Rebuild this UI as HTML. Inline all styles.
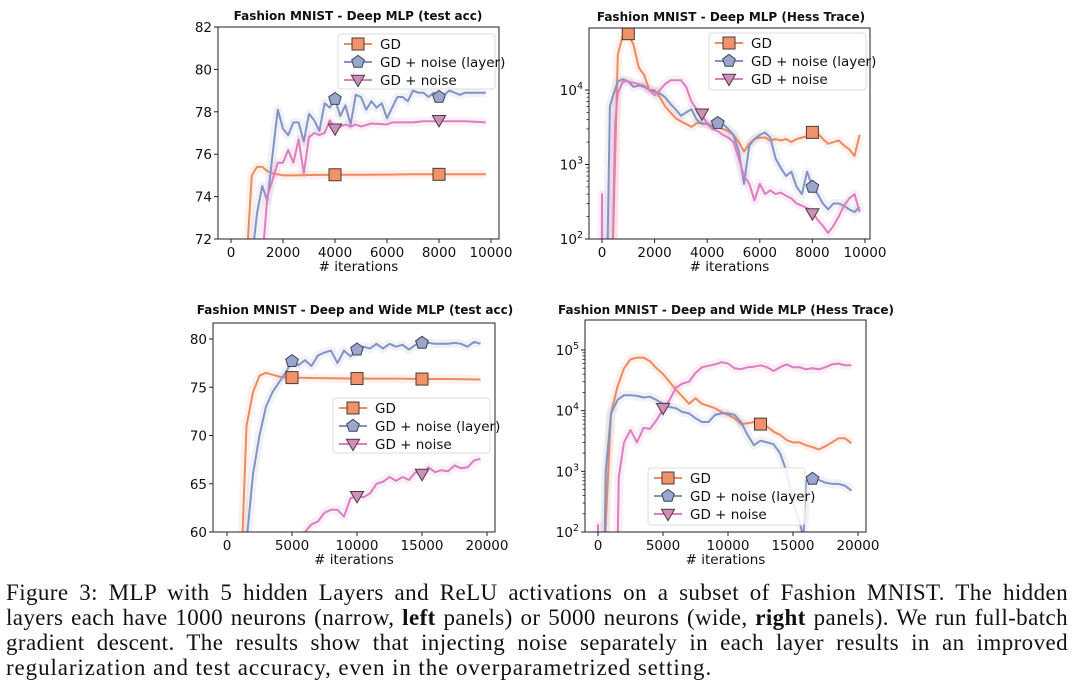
<!DOCTYPE html>
<html><head><meta charset="utf-8"><style>
body{margin:0;background:#fff;width:1080px;height:694px;overflow:hidden;position:relative}
svg{position:absolute;left:0;top:0}
.cap{position:absolute;left:6px;width:1062px;font-family:"Liberation Serif",serif;font-size:23px;letter-spacing:0.9px;line-height:25px;white-space:nowrap;color:#111}
.j{text-align:justify;text-align-last:justify;letter-spacing:0.4px}
</style></head><body>
<svg id="fig" width="1080" height="580"></svg>
<div class="cap j" style="top:580px">Figure 3: MLP with 5 hidden Layers and ReLU activations on a subset of Fashion MNIST. The hidden</div>
<div class="cap j" style="top:605px">layers each have 1000 neurons (narrow, <b>left</b> panels) or 5000 neurons (wide, <b>right</b> panels). We run full-batch</div>
<div class="cap j" style="top:630px">gradient descent. The results show that injecting noise separately in each layer results in an improved</div>
<div class="cap" style="top:655px">regularization and test accuracy, even in the overparametrized setting.</div>
<script>
// ---- Panel 1: Deep MLP test acc ----
const p1GDx=[600,800,1000,1200,1400,1600,1800,2000,2400,3000,4000,5000,6000,7000,8000,9000,9800];
const p1GDy=[71,75.0,75.4,75.4,75.2,75.1,75.05,75.0,75.0,75.02,75.03,75.03,75.04,75.05,75.05,75.05,75.05];
const p1Lx=[800,1000,1200,1400,1600,1800,2000,2200,2400,2600,2800,3000,3200,3400,3600,3800,4000,4200,4400,4600,4800,5000,5200,5400,5600,5800,6000,6200,6400,6600,6800,7000,7200,7400,7600,7800,8000,8200,8400,8600,8800,9000,9400,9800];
const p1Ly=[71,73.2,74.5,73.8,76,78.1,77.2,76.9,77.5,77.5,76.6,77.9,77.6,77.1,78.4,78.2,78.6,77.8,78.3,77.4,78.8,78.7,78.1,78.5,78.2,78.4,77.7,78.2,78.7,78.7,78.5,79.0,78.9,78.9,78.7,78.9,78.7,78.8,79.0,78.9,78.8,78.9,78.9,78.9];
const p1Nx=[1200,1400,1600,1800,2000,2200,2400,2600,2800,3000,3200,3400,3600,3800,4000,4200,4400,4600,4800,5000,5400,6000,6200,7000,7400,8000,9000,9800];
const p1Ny=[71,74,74.8,75.6,75.6,76.2,75.6,76.7,75.1,76.8,77.0,76.9,77.0,77.6,77.2,77.3,77.4,77.3,77.4,77.3,77.45,77.4,77.5,77.5,77.55,77.55,77.55,77.5];
// ---- Panel 2: Deep MLP Hess trace ----
const p2GDx=[400,600,800,1000,1200,1400,1600,1800,2000,2200,2400,2600,2800,3000,3200,3400,3600,3800,4000,4200,4400,4600,4800,5000,5200,5400,5600,5800,6000,6200,6400,6600,6800,7000,7200,7400,7600,7800,8000,8200,8400,8600,8800,9000,9200,9400,9600,9800];
const p2GDy=[50,30000,55000,57000,40000,20000,16000,10000,10000,8000,6000,5000,4200,3800,3500,3200,3600,3600,3500,3300,3200,3000,2800,2500,2000,1500,1900,2200,2300,2300,2100,2200,2100,2200,2000,2200,2300,2400,2700,2600,2200,1900,2000,2100,1800,1600,1300,2500];
const p2Lx=[200,300,400,600,800,1000,1200,1400,1600,1800,2000,2200,2400,2600,2800,3000,3200,3400,3600,3800,4000,4200,4400,4600,4800,5000,5200,5400,5600,5800,6000,6200,6400,6600,6800,7000,7200,7400,7600,7800,8000,8200,8400,8600,8800,9000,9200,9400,9600,9800];
const p2Ly=[50,6000,8000,13000,14000,13000,11000,11500,11000,10000,9500,9000,8000,6500,5500,4500,5000,5500,4000,3500,3600,3200,3600,3500,3000,2500,1500,550,1800,2200,2500,2700,2300,1200,900,700,800,500,400,800,500,400,300,250,300,300,280,250,230,270];
const p2Nx=[-10,0,10,400,500,600,800,1000,1200,1400,1600,1800,2000,2200,2400,2600,2800,3000,3200,3400,3600,3800,4000,4200,4400,4600,4800,5000,5200,5400,5600,5800,6000,6200,6400,6600,6800,7000,7200,7400,7600,7800,8000,8200,8400,8600,8800,9000,9200,9400,9600,9800];
const p2Ny=[50,400,50,50,3500,9000,13000,13000,12500,12000,11500,10000,8500,10000,12000,13500,13500,13500,11000,7000,5500,4800,3500,3000,2800,2500,2300,2000,1200,700,550,330,550,400,450,400,420,380,350,300,280,260,230,180,150,120,150,200,280,350,400,230];
// ---- Panel 3: Deep & Wide test acc ----
const p3GDx=[1000,1200,1500,2000,2500,3000,3500,4000,4500,5000,7000,10000,13000,15000,17000,19500];
const p3GDy=[55,60,71,74.5,76.2,76.5,76.3,76.1,76.0,76.0,75.95,75.9,75.9,75.85,75.85,75.8];
const p3Lx=[1500,2000,2500,3000,3500,4000,4500,5000,5500,6000,6500,7000,7500,8000,8500,9000,9500,10000,10500,11000,11500,12000,12500,13000,13500,14000,14500,15000,15500,16000,16500,17000,17500,18000,18500,19000,19500];
const p3Ly=[59,66,70,73,74.5,75.5,76.5,77.7,77.3,77.8,77.2,78.3,78.6,78.8,77.5,78.8,78.2,78.9,79.2,79.0,79.5,79.0,79.5,79.2,79.4,78.9,79.4,79.6,79.6,79.5,79.5,79.5,79.6,79.5,79.2,79.7,79.5];
const p3Nx=[6000,6500,7000,7500,8000,8500,9000,9500,10000,10500,11000,11500,12000,12500,13000,13500,14000,14500,15000,15500,16000,16500,17000,17500,18000,18500,19000,19500];
const p3Ny=[60,60.8,61.1,62,62.3,62.3,61.6,63.5,63.7,63.6,64,65,65.2,65.7,65.3,65.7,65.4,66.2,66,66.7,66.2,66.4,66.3,66.9,66.6,66.7,67.4,67.6];
// ---- Panel 4: Deep & Wide Hess trace ----
const p4GDx=[500,1000,1500,2000,2500,3000,3500,4000,4500,5000,5500,6000,6500,7000,7500,8000,8500,9000,9500,10000,10500,11000,11500,12000,12500,13000,13500,14000,14500,15000,15500,16000,16500,17000,17500,18000,18500,19000,19500];
const p4GDy=[50,9000,25000,50000,70000,75000,75000,65000,50000,40000,30000,22000,17000,13000,16000,13000,12000,11000,9500,8500,7500,6000,6200,6500,6000,5500,4500,4000,3300,3000,3000,2700,2500,2300,2600,3000,3500,3500,2900];
const p4Lx=[500,600,1000,1500,2000,2500,3000,3500,4000,4500,5000,5500,6000,6500,7000,7500,8000,8500,9000,9500,10000,10500,11000,11500,12000,12500,13000,13500,14000,14500,15000,15500,15800,16000,16500,17000,17500,18000,18500,19000,19500];
const p4Ly=[50,1000,9000,15000,18000,18000,17500,16500,17000,15000,13000,11500,11000,9500,9000,7500,6500,6500,8500,9000,9000,8500,6500,4000,2700,3200,3000,2800,2000,1000,300,150,80,700,750,720,650,620,620,580,480];
const p4Nx=[-10,0,10,1500,1600,2000,2500,3000,3500,4000,4500,5000,5500,6000,6500,7000,7500,8000,8500,9000,9500,10000,10500,11000,11500,12000,12500,13000,13500,14000,14500,15000,15500,16000,16500,17000,17500,18000,18500,19000,19500];
const p4Ny=[50,130,50,50,800,3000,4800,3000,5200,5000,7000,10500,15000,24000,28000,30000,42000,52000,55000,58000,63000,60000,50000,48000,52000,53000,56000,52000,45000,52000,58000,52000,52000,48000,50000,48000,52000,58000,60000,56000,56000];
// markers [x,y]
const p1Mk={gd:[[4000,75.03],[8000,75.05]],layer:[[4000,78.6],[8000,78.7]],noise:[[4000,77.2],[8000,77.6]]};
const p2Mk={gd:[[1000,57000],[8000,2700]],layer:[[4400,3600],[8000,500]],noise:[[3800,4800],[8000,220]]};
const p3Mk={gd:[[5000,76.0],[10000,75.9],[15000,75.85]],layer:[[5000,77.7],[10000,78.9],[15000,79.6]],noise:[[10000,63.7],[15000,66]]};
const p4Mk={gd:[[12500,6000]],layer:[[16500,750]],noise:[[5000,11000]]};
const p1Ticks=[72,74,76,78,80,82], p3Ticks=[60,65,70,75,80];
const xTicks10=[0,2000,4000,6000,8000,10000], xTicks20=[0,5000,10000,15000,20000];

const C={gd:'#ee8a62',layer:'#8393c2',noise:'#db7fc0'};
const F={gd:'#f2926a',layer:'#9aa6cc',noise:'#cf8fba'};
const NS='http://www.w3.org/2000/svg';
const svg=document.getElementById('fig');
function mk(tag,at,parent){const e=document.createElementNS(NS,tag);for(const k in at)e.setAttribute(k,at[k]);(parent||svg).appendChild(e);return e;}

function marker(g,kind,cx,cy,s){
  let e;
  if(kind==='gd') e=mk('rect',{x:cx-s,y:cy-s,width:2*s,height:2*s,fill:F.gd,stroke:'#4a3a35','stroke-width':1},g);
  else if(kind==='layer'){let p=[];for(let i=0;i<5;i++){const a=-Math.PI/2+i*2*Math.PI/5;p.push((cx+s*1.1*Math.cos(a)).toFixed(1)+','+(cy+s*1.1*Math.sin(a)).toFixed(1));}
    e=mk('polygon',{points:p.join(' '),fill:F.layer,stroke:'#3d4155','stroke-width':1},g);}
  else e=mk('polygon',{points:`${cx-s*1.1},${cy-s*0.8} ${cx+s*1.1},${cy-s*0.8} ${cx},${cy+s*1.1}`,fill:F.noise,stroke:'#4a3a45','stroke-width':1},g);
  return e;
}

function panel(cfg){
  const {id,L,R,T,B,x0,x0px,x1,x1px,log,y0,y0px,y1,y1px,title,tx,ty,series,mks,yt,xt,leg}=cfg;
  const sx=v=>x0px+(v-x0)*(x1px-x0px)/(x1-x0);
  const tr=v=>log?Math.log10(v):v;
  const sy=v=>y0px+(tr(v)-y0)*(y1px-y0px)/(y1-y0);
  const g=mk('g',{});
  
  
  const cp=mk('clipPath',{id:id+'-clip'},g);mk('rect',{x:L,y:T,width:R-L,height:B-T},cp);
  const t=mk('text',{x:tx,y:ty,'text-anchor':'middle','font-family':'DejaVu Sans,sans-serif','font-size':12,'font-weight':'bold',fill:'#111'},g);
  t.textContent=title;
  
  
  const pg=mk('g',{'clip-path':`url(#${id}-clip)`},g);
  for(const [k,xs,ys] of series){
    const d=xs.map((x,i)=>(i?'L':'M')+sx(x).toFixed(1)+','+Math.max(-50,Math.min(700,sy(ys[i]))).toFixed(1)).join('');
    const band=mk('path',{d,fill:'none',stroke:C[k],'stroke-opacity':0.12,'stroke-width':9,'stroke-linejoin':'round'},pg);
    
    
    const p=mk('path',{d,fill:'none',stroke:C[k],'stroke-width':2,'stroke-linejoin':'round'},pg);
    
    
  }
  for(const k of ['gd','layer','noise']) for(const [x,y] of mks[k]){
    const m=marker(pg,k,sx(x),sy(y),6);
    
    
  }
  const fr=mk('rect',{x:L,y:T,width:R-L,height:B-T,fill:'none',stroke:'#222','stroke-width':1},g);
  
  
  const font={'font-family':'DejaVu Sans,sans-serif','font-size':13.5,fill:'#111'};
  for(const v of xt){const x=sx(v);mk('line',{x1:x,x2:x,y1:B,y2:B+4,stroke:'#222'},g);
    const tt=mk('text',Object.assign({x,y:B+18,'text-anchor':'middle'},font),g);tt.textContent=v;
    
    }
  const xl=mk('text',Object.assign({x:(L+R)/2,y:B+32,'text-anchor':'middle'},font),g);xl.textContent='# iterations';
  
  
  for(const v of yt){const y=sy(v);mk('line',{x1:L-4,x2:L,y1:y,y2:y,stroke:'#222'},g);
    const tt=mk('text',Object.assign({x:L-6,y:y+5,'text-anchor':'end'},font),g);
    if(log){tt.textContent='10';const s=mk('tspan',{dy:-6,'font-size':9.5},tt);s.textContent=Math.round(Math.log10(v));}
    else tt.textContent=v;
    
    }
  if(log){for(let d=Math.floor(y0);d<Math.ceil(y1);d++)for(let m=2;m<10;m++){const y=sy(m*Math.pow(10,d));if(y>=T&&y<=B)mk('line',{x1:L-2.5,x2:L,y1:y,y2:y,stroke:'#222','stroke-width':0.8},g);}}
  const [lx,ly,lw,lh]=leg;
  const lg=mk('g',{},g);
  
  
  mk('rect',{x:lx,y:ly,width:lw,height:lh,rx:3,fill:'#fff','fill-opacity':0.85,stroke:'#ddd'},lg);
  const names={gd:'GD',layer:'GD + noise (layer)',noise:'GD + noise'};
  ['gd','layer','noise'].forEach((k,i)=>{const y=ly+10+i*18;
    mk('line',{x1:lx+6,x2:lx+34,y1:y,y2:y,stroke:C[k],'stroke-width':2},lg);
    marker(lg,k,lx+20,y,6);
    const tt=mk('text',Object.assign({x:lx+42,y:y+5},font),lg);tt.textContent=names[k];
    
    });
}
panel({id:'panel-deep-acc',L:218,R:499,T:27,B:239,x0:0,x0px:231,x1:10000,x1px:491,log:false,y0:72,y0px:239,y1:82,y1px:27,
  title:'Fashion MNIST - Deep MLP (test acc)',tx:358,ty:20,
  series:[['gd',p1GDx,p1GDy],['layer',p1Lx,p1Ly],['noise',p1Nx,p1Ny]],mks:p1Mk,yt:p1Ticks,xt:xTicks10,leg:[338,34,157,55]});
panel({id:'panel-deep-hess',L:589,R:870,T:28,B:239,x0:0,x0px:602,x1:10000,x1px:865,log:true,y0:2,y0px:239,y1:4,y1px:90,
  title:'Fashion MNIST - Deep MLP (Hess Trace)',tx:731,ty:21,
  series:[['gd',p2GDx,p2GDy],['layer',p2Lx,p2Ly],['noise',p2Nx,p2Ny]],mks:p2Mk,yt:[100,1000,10000],xt:xTicks10,leg:[709,33,157,57]});
panel({id:'panel-wide-acc',L:213,R:495,T:323,B:532,x0:0,x0px:227,x1:20000,x1px:487,log:false,y0:60,y0px:532,y1:80,y1px:339,
  title:'Fashion MNIST - Deep and Wide MLP (test acc)',tx:355,ty:314,
  series:[['gd',p3GDx,p3GDy],['layer',p3Lx,p3Ly],['noise',p3Nx,p3Ny]],mks:p3Mk,yt:p3Ticks,xt:xTicks20,leg:[333,398,157,55]});
panel({id:'panel-wide-hess',L:585,R:866,T:320,B:532,x0:0,x0px:598,x1:20000,x1px:858,log:true,y0:2,y0px:532,y1:5,y1px:350,
  title:'Fashion MNIST - Deep and Wide MLP (Hess Trace)',tx:726,ty:314,
  series:[['gd',p4GDx,p4GDy],['layer',p4Lx,p4Ly],['noise',p4Nx,p4Ny]],mks:p4Mk,yt:[100,1000,10000,100000],xt:xTicks20,leg:[648,468,157,57]});
</script>
</body></html>
